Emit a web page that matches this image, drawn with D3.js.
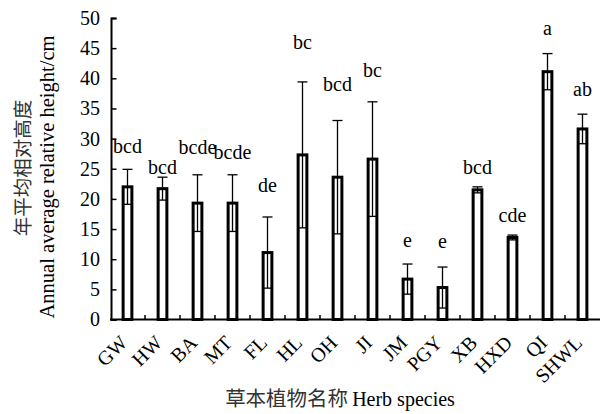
<!DOCTYPE html>
<html><head><meta charset="utf-8">
<script src="https://cdn.jsdelivr.net/npm/d3@7/dist/d3.min.js"></script>
<style>body{margin:0;background:#fff}svg{display:block}</style>
</head><body>
<script>
const species = ["GW","HW","BA","MT","FL","HL","OH","JI","JM","PGY","XB","HXD","QI","SHWL"];
const means = [22.0,21.7,19.3,19.3,11.1,27.3,23.6,26.6,6.7,5.3,21.5,13.6,41.1,31.6];
const sds = [2.9,1.9,4.7,4.7,5.9,12.1,9.4,9.5,2.5,3.4,0.5,0.4,3.0,2.45];
const letters = ["bcd","bcd","bcde","bcde","de","bc","bcd","bc","e","e","bcd","cde","a","ab"];
const letterAt = [27.6,24.2,27.4,26.6,21.2,44.9,37.9,40.2,12.1,11.8,24.1,16.2,47.2,37.1];
const yTicks = [0,5,10,15,20,25,30,35,40,45,50];

const W = 600, H = 414;
const serif = "'Liberation Serif','Times New Roman',serif";
const cjk = "'Noto Sans CJK SC',sans-serif";
const svg = d3.select("body").append("svg").attr("width", W).attr("height", H);

const x = d3.scaleBand().domain(species).range([110, 600]).padding(0);
const y = d3.scaleLinear().domain([0, 50]).range([319.5, 18]);
const bw = x.bandwidth() * 0.25;

const data = species.map((s, i) => ({s, m: means[i], sd: sds[i], l: letters[i], la: letterAt[i]}));

// bars
svg.append("g").selectAll("rect").data(data).join("rect")
  .attr("x", d => x(d.s) + x.bandwidth()/2 - bw/2)
  .attr("y", d => y(d.m))
  .attr("width", bw)
  .attr("height", d => y(0) - y(d.m))
  .attr("fill", "#fff").attr("stroke", "#000").attr("stroke-width", 3);

// error bars
const eg = svg.append("g").attr("stroke", "#000").attr("stroke-width", 1.3);
data.forEach(d => {
  const cx = x(d.s) + x.bandwidth()/2;
  const lo = y(d.m - d.sd), hi = y(d.m + d.sd);
  eg.append("line").attr("x1", cx).attr("x2", cx).attr("y1", lo).attr("y2", hi);
  eg.append("line").attr("x1", cx - 5).attr("x2", cx + 5).attr("y1", hi).attr("y2", hi);
  eg.append("line").attr("x1", cx - 4.5).attr("x2", cx + 4.5).attr("y1", lo).attr("y2", lo);
});

// letters
svg.append("g").selectAll("text").data(data).join("text")
  .attr("x", d => x(d.s) + x.bandwidth()/2)
  .attr("y", d => y(d.la))
  .attr("text-anchor", "middle")
  .attr("font-family", serif).attr("font-size", 20)
  .text(d => d.l);

// y axis
const yAxis = d3.axisLeft(y).tickValues(yTicks).tickSize(-5.5).tickPadding(11);
const ga = svg.append("g").attr("transform", "translate(111,0)").call(yAxis);
ga.select(".domain").attr("stroke-width", 2);
ga.selectAll(".tick line").attr("stroke-width", 1.5);
ga.selectAll(".tick text").attr("font-family", serif).attr("font-size", 20).attr("fill", "#000");

// x axis
svg.append("line").attr("x1", 110).attr("x2", 600).attr("y1", y(0)).attr("y2", y(0))
  .attr("stroke", "#000").attr("stroke-width", 2);
svg.append("g").selectAll("line").data(species.slice(1)).join("line")
  .attr("x1", d => x(d)).attr("x2", d => x(d))
  .attr("y1", y(0)).attr("y2", y(0) - 4.5)
  .attr("stroke", "#000").attr("stroke-width", 1.5);

svg.append("g").selectAll("text").data(species).join("text")
  .attr("transform", d => `translate(${x(d) + x.bandwidth()/2 + 1},344) rotate(-45)`)
  .attr("text-anchor", "end")
  .attr("font-family", serif).attr("font-size", 20)
  .text(d => d);

// axis titles
const xt = svg.append("text").attr("x", 340).attr("y", 406).attr("text-anchor", "middle")
  .attr("font-size", 20);
xt.append("tspan").attr("font-family", cjk).attr("fill", "#333").attr("font-size", 20.5).text("草本植物名称");
xt.append("tspan").attr("font-family", serif).attr("dx", 4).text("Herb species");

svg.append("text").attr("transform", "translate(30,168) rotate(-90)")
  .attr("text-anchor", "middle").attr("font-family", cjk).attr("fill", "#333").attr("font-size", 19.5)
  .text("年平均相对高度");
svg.append("text").attr("transform", "translate(54,177) rotate(-90)")
  .attr("text-anchor", "middle").attr("font-family", serif).attr("font-size", 20.5)
  .text("Annual average relative height/cm");
</script>
</body></html>
